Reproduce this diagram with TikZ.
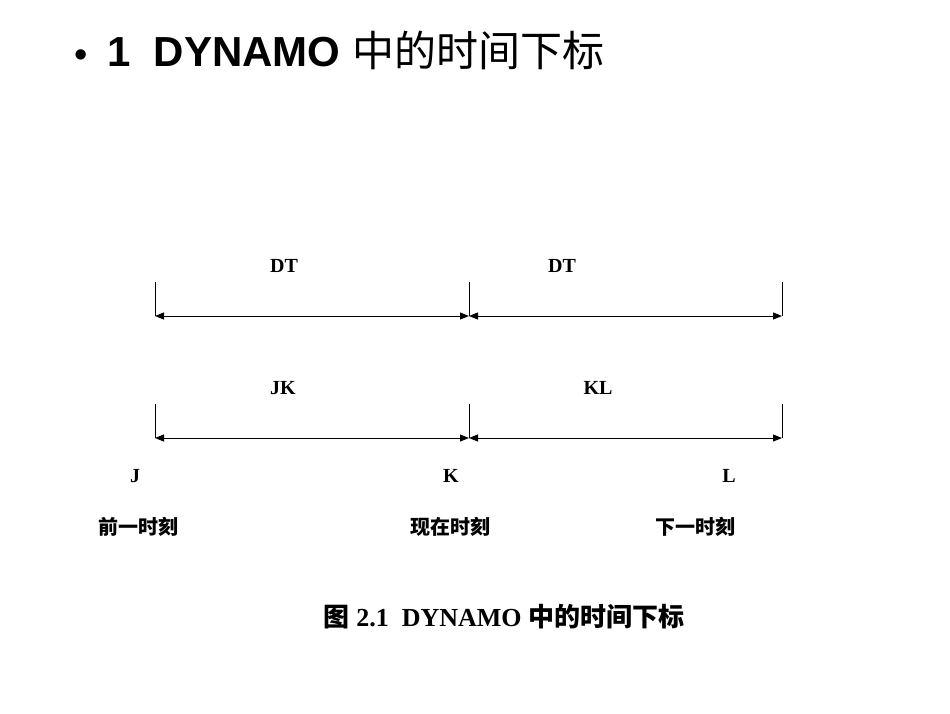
\documentclass[tikz,border=0pt]{standalone}
\usepackage{fontspec}
\setmainfont{Liberation Serif}
\newfontfamily\titlefont{Liberation Sans}
\newfontfamily\cjk{Noto Sans CJK SC}
\usetikzlibrary{positioning, arrows.meta}
\tikzset{tickline/.style={line width=0.8pt}}
\tikzset{spanline/.style={{Triangle[length=9pt,width=7pt]}-{Triangle[length=9pt,width=7pt]}, line width=1pt}}
\tikzset{lbl/.style={inner sep=0pt, font=\bfseries\fontsize{20}{20}\selectfont}}
\tikzset{cjklbl/.style={inner sep=0pt, font=\cjk\bfseries\fontsize{20}{20}\selectfont}}

\begin{document}
\begin{tikzpicture}[x=1pt, y=-1pt]
  \useasboundingbox[fill=white] (0,0) rectangle (950,713);

  % title
  \node[inner sep=0pt, font=\titlefont\fontsize{38}{38}\selectfont] (bullet) at (81,59) {\textbullet};
  \node[inner sep=0pt, anchor=base west, font=\titlefont\bfseries\fontsize{42}{42}\selectfont] (title) at (107,66)
    {1\ \ DYNAMO {\cjk\mdseries 中的时间下标}};

  % time points
  \coordinate (dj) at (155,282);
  \coordinate (dk) at (469,282);
  \coordinate (dl) at (782,282);
  \coordinate (sj) at (155,404);
  \coordinate (sk) at (469,404);
  \coordinate (sl) at (782,404);
  \coordinate (dja) at (155,316);
  \coordinate (dka) at (469,316);
  \coordinate (dla) at (782,316);
  \coordinate (sja) at (155,438);
  \coordinate (ska) at (469,438);
  \coordinate (sla) at (782,438);

  \draw[tickline] (dj) -- (dja) (dk) -- (dka) (dl) -- (dla);
  \draw[tickline] (sj) -- (sja) (sk) -- (ska) (sl) -- (sla);
  \draw[spanline] (dja) -- (dka);
  \draw[spanline] (dka) -- (dla);
  \draw[spanline] (sja) -- (ska);
  \draw[spanline] (ska) -- (sla);

  \node[lbl] (dt1) at (284,266) {DT};
  \node[lbl] (dt2) at (562,266) {DT};
  \node[lbl] (jk) at (283,388) {JK};
  \node[lbl] (kl) at (598,388) {KL};

  \node[lbl] (j) at (135,476) {J};
  \node[lbl] (k) at (451,476) {K};
  \node[lbl] (l) at (729,476) {L};

  \node[cjklbl] (prev) at (138,527) {前一时刻};
  \node[cjklbl] (now) at (450,527) {现在时刻};
  \node[cjklbl] (next) at (695,527) {下一时刻};

  % caption
  \node[inner sep=0pt, font=\bfseries\fontsize{26}{26}\selectfont] (caption) at (504,617)
    {{\cjk 图} 2.1\ \ DYNAMO {\cjk 中的时间下标}};
\end{tikzpicture}
\end{document}
